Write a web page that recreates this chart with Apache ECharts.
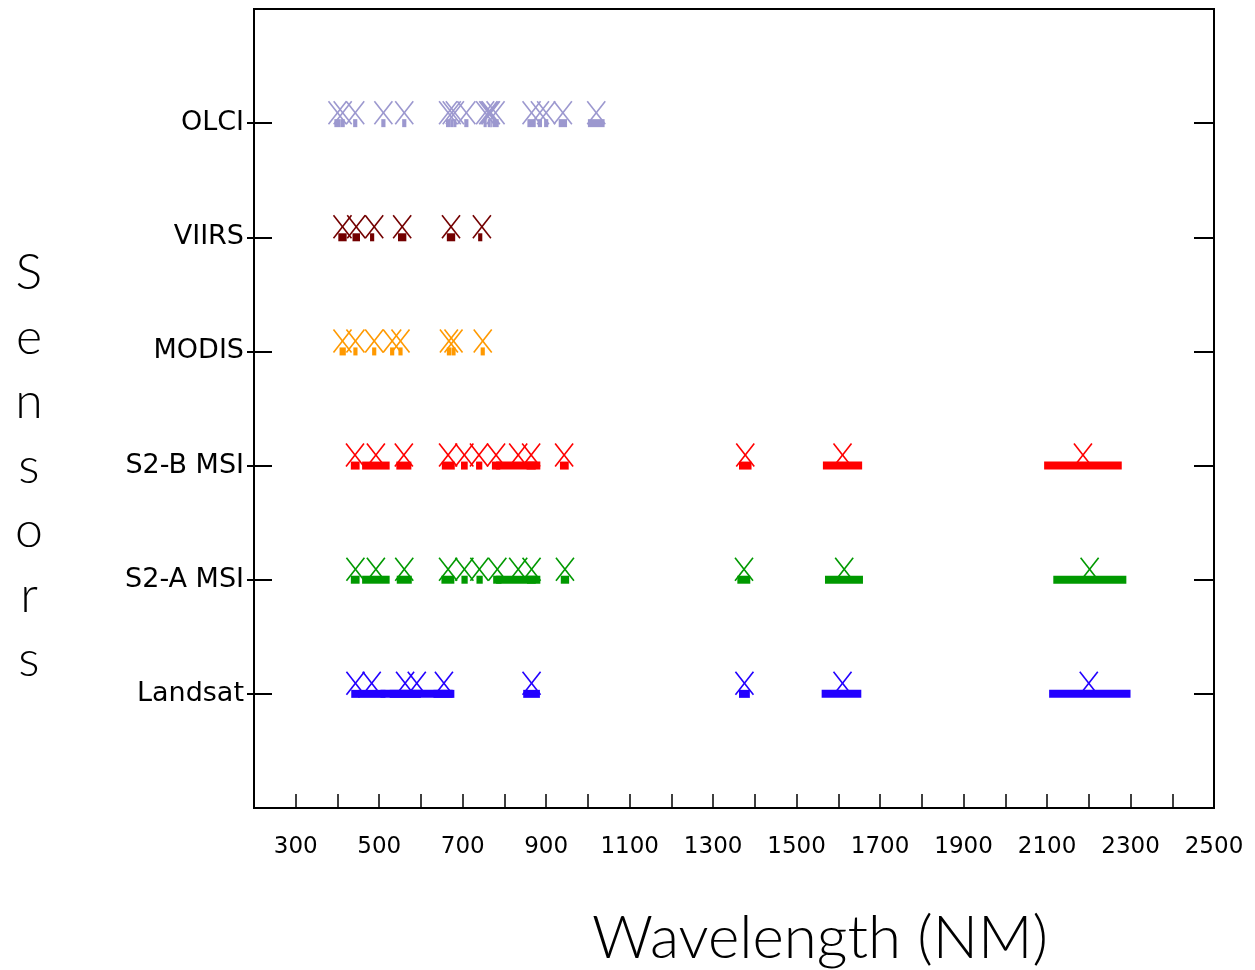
<!DOCTYPE html>
<html>
<head>
<meta charset="utf-8">
<script src="https://cdn.jsdelivr.net/npm/echarts@6/dist/echarts.min.js"></script>
<style>
html,body{margin:0;padding:0;background:#fff;}
#chart{width:1255px;height:970px;}
</style>
</head>
<body>
<div id="chart"></div>
<script>
// Sensors (bottom to top) and their colours
const sensors = ['Landsat', 'S2-A MSI', 'S2-B MSI', 'MODIS', 'VIIRS', 'OLCI'];
const sensorColors = ['#2200ff', '#009900', '#ff0000', '#ff9900', '#730000', '#9c98cf'];

// X-axis tick labels (nm)
const xTickLabels = [300, 500, 700, 900, 1100, 1300, 1500, 1700, 1900, 2100, 2300, 2500];

// Band centres / lower edges / upper edges (nm)
const landsatCenter = [443, 482, 562, 590, 655, 865, 1375, 1610, 2200];
const landsatLow    = [433, 450, 525, 503, 630, 845, 1362, 1560, 2105];
const landsatHigh   = [453, 515, 600, 676, 680, 885, 1388, 1655, 2300];

const s2aCenter = [443, 492, 560, 665, 704, 740, 783, 833, 865, 945, 1374, 1614, 2202];
const s2aLow    = [432, 459, 542, 649, 697, 733, 773, 780, 854, 935, 1358, 1568, 2115];
const s2aHigh   = [453, 525, 578, 680, 712, 748, 793, 886, 875, 955, 1389, 1659, 2290];

const s2bCenter = [442, 492, 559, 665, 704, 739, 780, 833, 864, 943, 1377, 1610, 2186];
const s2bLow    = [432, 459, 541, 650, 696, 732, 770, 780, 853, 933, 1362, 1563, 2093];
const s2bHigh   = [453, 525, 577, 681, 712, 747, 790, 886, 875, 954, 1392, 1657, 2279];

const modisCenter = [412, 443, 488, 531, 551, 667, 678, 748];
const modisLow    = [405, 438, 483, 526, 546, 662, 673, 743];
const modisHigh   = [420, 448, 493, 536, 556, 672, 683, 753];

const viirsCenter = [412, 445, 488, 555, 672, 746];
const viirsLow    = [402, 436, 478, 545, 662, 737];
const viirsHigh   = [422, 454, 488, 565, 682, 747];

const olciCenter = [400, 412.5, 442.5, 510, 560, 665, 673.75, 681.25, 708.75, 753.75, 761.25, 764.375, 767.5, 778.75, 865, 885, 900, 940, 1020];
const olciLow    = [392.5, 407.5, 437.5, 505, 555, 660, 670, 677.5, 703.75, 750, 760, 762.5, 766.25, 771.25, 855, 880, 895, 930, 1000];
const olciHigh   = [407.5, 417.5, 447.5, 515, 565, 670, 677.5, 685, 713.75, 757.5, 762.5, 766.25, 768.75, 786.25, 875, 890, 905, 950, 1040];

const bandSets = [
  [landsatCenter, landsatLow, landsatHigh],
  [s2aCenter, s2aLow, s2aHigh],
  [s2bCenter, s2bLow, s2bHigh],
  [modisCenter, modisLow, modisHigh],
  [viirsCenter, viirsLow, viirsHigh],
  [olciCenter, olciLow, olciHigh]
];

const chart = echarts.init(document.getElementById('chart'), null, {renderer: 'canvas'});

function makeRender(color) {
  return function (params, api) {
    const y = api.value(3);
    const c = api.coord([api.value(0), y]);
    const l = api.coord([api.value(1), y]);
    const h = api.coord([api.value(2), y]);
    return {
      type: 'group',
      children: [
        {type: 'rect', shape: {x: l[0], y: c[1] - 4, width: Math.max(h[0] - l[0], 1.5), height: 8},
         style: {fill: color}},
        {type: 'line', shape: {x1: c[0] - 9, y1: c[1] - 22, x2: c[0] + 9, y2: c[1] + 1},
         style: {stroke: color, lineWidth: 1.6}},
        {type: 'line', shape: {x1: c[0] + 9, y1: c[1] - 22, x2: c[0] - 9, y2: c[1] + 1},
         style: {stroke: color, lineWidth: 1.6}}
      ]
    };
  };
}

const series = bandSets.map(function (set, i) {
  const data = set[0].map(function (c, k) { return [c, set[1][k], set[2][k], i + 1]; });
  return {
    type: 'custom',
    name: sensors[i],
    xAxisIndex: 0,
    yAxisIndex: 0,
    renderItem: makeRender(sensorColors[i]),
    encode: {x: [0, 1, 2], y: 3},
    data: data,
    silent: true,
    animation: false
  };
});

const tickVals = [1, 2, 3, 4, 5, 6];
const labelFont = 'DejaVu Sans';

chart.setOption({
  animation: false,
  backgroundColor: '#fff',
  grid: {left: 254, right: 41, top: 9, bottom: 162, show: true, borderColor: '#000', borderWidth: 2, backgroundColor: 'transparent'},
  xAxis: {
    type: 'value', min: 200, max: 2500, interval: 100,
    splitLine: {show: false},
    axisLine: {show: true, lineStyle: {color: '#000', width: 2}},
    axisTick: {show: true, inside: true, length: 14, lineStyle: {color: '#000', width: 1.5}},
    axisLabel: {
      show: true, margin: 28, color: '#000', fontFamily: labelFont, fontSize: 23,
      showMinLabel: true, showMaxLabel: true,
      formatter: function (v) { return xTickLabels.indexOf(v) >= 0 ? String(v) : ''; }
    }
  },
  yAxis: [
    {
      type: 'value', min: 0, max: 7, interval: 1, position: 'left',
      splitLine: {show: false},
      axisLine: {show: true, lineStyle: {color: '#000', width: 2}},
      axisTick: {show: true, inside: false, length: 7, customValues: tickVals, lineStyle: {color: '#000', width: 2}},
      axisLabel: {
        show: true, margin: 10, color: '#000', fontFamily: labelFont, fontSize: 27,
        padding: [6, 0, 0, 0],
        customValues: tickVals,
        formatter: function (v) { return (v >= 1 && v <= 6) ? sensors[v - 1] : ''; }
      }
    },
    {
      type: 'value', min: 0, max: 7, interval: 1, position: 'left',
      splitLine: {show: false},
      axisLine: {show: false},
      axisTick: {show: true, inside: true, length: 18, customValues: tickVals, lineStyle: {color: '#000', width: 2}},
      axisLabel: {show: false}
    },
    {
      type: 'value', min: 0, max: 7, interval: 1, position: 'right',
      splitLine: {show: false},
      axisLine: {show: true, lineStyle: {color: '#000', width: 2}},
      axisTick: {show: true, inside: true, length: 20, customValues: tickVals, lineStyle: {color: '#000', width: 2}},
      axisLabel: {show: false}
    }
  ],
  graphic: [
    {
      type: 'text', x: 820, y: 939,
      style: {text: 'Wavelength (NM)', fill: '#000', font: '300 60px Lato, "DejaVu Sans", sans-serif',
              align: 'center', verticalAlign: 'middle'}
    },
    {
      type: 'text', x: 29, y: 241,
      style: {text: 'S\ne\nn\ns\no\nr\ns', fill: '#000', font: '300 50px Lato, "DejaVu Sans", sans-serif',
              lineHeight: 64.5, align: 'center', verticalAlign: 'top'}
    }
  ],
  series: series
});
</script>
</body>
</html>
